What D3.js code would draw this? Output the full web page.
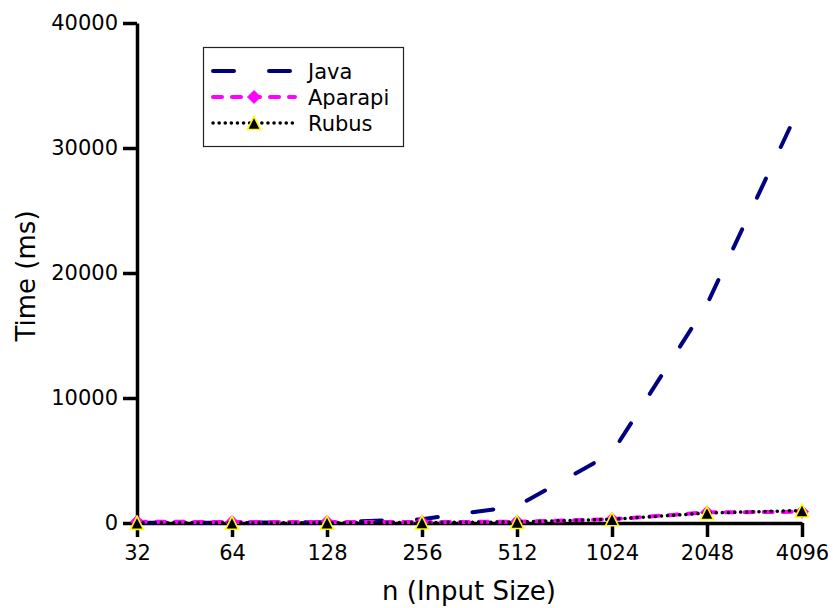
<!DOCTYPE html>
<html>
<head>
<meta charset="utf-8">
<script src="https://cdn.jsdelivr.net/npm/d3@7"></script>
<style>
  body { margin: 0; background: #fff; }
  text { font-family: "DejaVu Sans", sans-serif; fill: #000; }
</style>
</head>
<body>
<div class="chart"></div>
<script>
// input sizes (x axis, log2 spaced)
var sizes = [32, 64, 128, 256, 512, 1024, 2048, 4096];
// times in ms
var javaTimes = [20, 30, 60, 300, 1350, 5600, 17500, 33700];
var aparapiTimes = [100, 80, 80, 80, 100, 300, 850, 900];
var rubusTimes = [10, 15, 25, 40, 80, 300, 800, 1000];
var yTicks = [0, 10000, 20000, 30000, 40000];

var svgWidth = 833;
var svgHeight = 608;

var svg = d3.select(".chart")
    .append("svg")
    .attr("width", svgWidth)
    .attr("height", svgHeight);

var x = d3.scaleLog().base(2)
    .domain([32, 4096])
    .range([137, 802]);

var y = d3.scaleLinear()
    .domain([0, 40000])
    .range([523, 23]);

// axes
var xAxis = d3.axisBottom(x)
    .tickValues(sizes)
    .tickFormat(d3.format("d"))
    .tickSize(14)
    .tickSizeOuter(0)
    .tickPadding(8);

var yAxis = d3.axisLeft(y)
    .tickValues(yTicks)
    .tickFormat(d3.format("d"))
    .tickSize(14)
    .tickSizeOuter(0)
    .tickPadding(5);

var gx = svg.append("g")
    .attr("transform", "translate(0,523)")
    .call(xAxis);

var gy = svg.append("g")
    .attr("transform", "translate(137,0)")
    .call(yAxis);

[gx, gy].forEach(function(g) {
    g.select(".domain").attr("stroke", "#000").attr("stroke-width", 3.5);
    g.selectAll(".tick line").attr("stroke", "#000").attr("stroke-width", 3.5);
    g.selectAll(".tick text")
        .style("font-family", "DejaVu Sans")
        .style("font-size", "21px")
        .attr("fill", "#000");
});

// axis labels
svg.append("text")
    .attr("x", 469)
    .attr("y", 600)
    .attr("text-anchor", "middle")
    .style("font-size", "26px")
    .text("n (Input Size)");

svg.append("text")
    .attr("transform", "translate(35,276) rotate(-90)")
    .attr("text-anchor", "middle")
    .style("font-size", "26px")
    .text("Time (ms)");

// series
var series = [
    {name: "Java", values: javaTimes, color: "#000080", width: 4, dash: "21,35", marker: null},
    {name: "Aparapi", values: aparapiTimes, color: "#ff00ff", width: 4, dash: "9,10", marker: "diamond"},
    {name: "Rubus", values: rubusTimes, color: "#000000", width: 3.5, dash: "0.1,6", marker: "triangle"}
];

var line = d3.line()
    .x(function(d) { return x(d.n); })
    .y(function(d) { return y(d.t); });

// matplotlib style markers: square diamond and equal width/height triangle
var diamondType = {
    draw: function(ctx, size) {
        var r = size;
        ctx.moveTo(0, -r); ctx.lineTo(r, 0); ctx.lineTo(0, r); ctx.lineTo(-r, 0); ctx.closePath();
    }
};
var triangleType = {
    draw: function(ctx, size) {
        var r = size;
        ctx.moveTo(0, -r); ctx.lineTo(r, r); ctx.lineTo(-r, r); ctx.closePath();
    }
};
var diamond = d3.symbol().type(diamondType).size(6.5);
var triangle = d3.symbol().type(triangleType).size(6.5);

function drawMarkers(g, s, pts) {
    if (s.marker === "diamond") {
        g.selectAll("path.mk")
            .data(pts)
            .enter().append("path")
            .attr("class", "mk")
            .attr("transform", function(d) { return "translate(" + d[0] + "," + d[1] + ")"; })
            .attr("d", diamond())
            .attr("fill", "#ff00ff")
            .attr("stroke", "#ff00ff")
            .attr("stroke-width", 1);
    } else if (s.marker === "triangle") {
        g.selectAll("path.mk")
            .data(pts)
            .enter().append("path")
            .attr("class", "mk")
            .attr("transform", function(d) { return "translate(" + d[0] + "," + d[1] + ")"; })
            .attr("d", triangle())
            .attr("fill", "#000")
            .attr("stroke", "#ffff00")
            .attr("stroke-width", 1.6)
            .attr("stroke-linejoin", "miter");
    }
}

series.forEach(function(s) {
    var data = sizes.map(function(n, i) { return {n: n, t: s.values[i]}; });
    var g = svg.append("g");
    g.append("path")
        .datum(data)
        .attr("fill", "none")
        .attr("stroke", s.color)
        .attr("stroke-width", s.width)
        .attr("stroke-dasharray", s.dash)
        .attr("stroke-linecap", "round")
        .attr("stroke-linejoin", "round")
        .attr("d", line);
    drawMarkers(g, s, data.map(function(d) { return [x(d.n), y(d.t)]; }));
});

// legend
var legend = svg.append("g");
legend.append("rect")
    .attr("x", 203.5)
    .attr("y", 47.5)
    .attr("width", 200)
    .attr("height", 99)
    .attr("fill", "#fff")
    .attr("stroke", "#222")
    .attr("stroke-width", 1.2);

var legendRows = [71, 97, 123];
series.forEach(function(s, i) {
    var ly = legendRows[i];
    legend.append("path")
        .attr("d", d3.line()([[213, ly], [295, ly]]))
        .attr("fill", "none")
        .attr("stroke", s.color)
        .attr("stroke-width", s.width)
        .attr("stroke-dasharray", s.dash)
        .attr("stroke-linecap", "round");
    drawMarkers(legend.append("g"), s, [[254, ly]]);
    legend.append("text")
        .attr("x", 308)
        .attr("y", ly)
        .attr("dy", "0.36em")
        .style("font-size", "21px")
        .text(s.name);
});
</script>
</body>
</html>
